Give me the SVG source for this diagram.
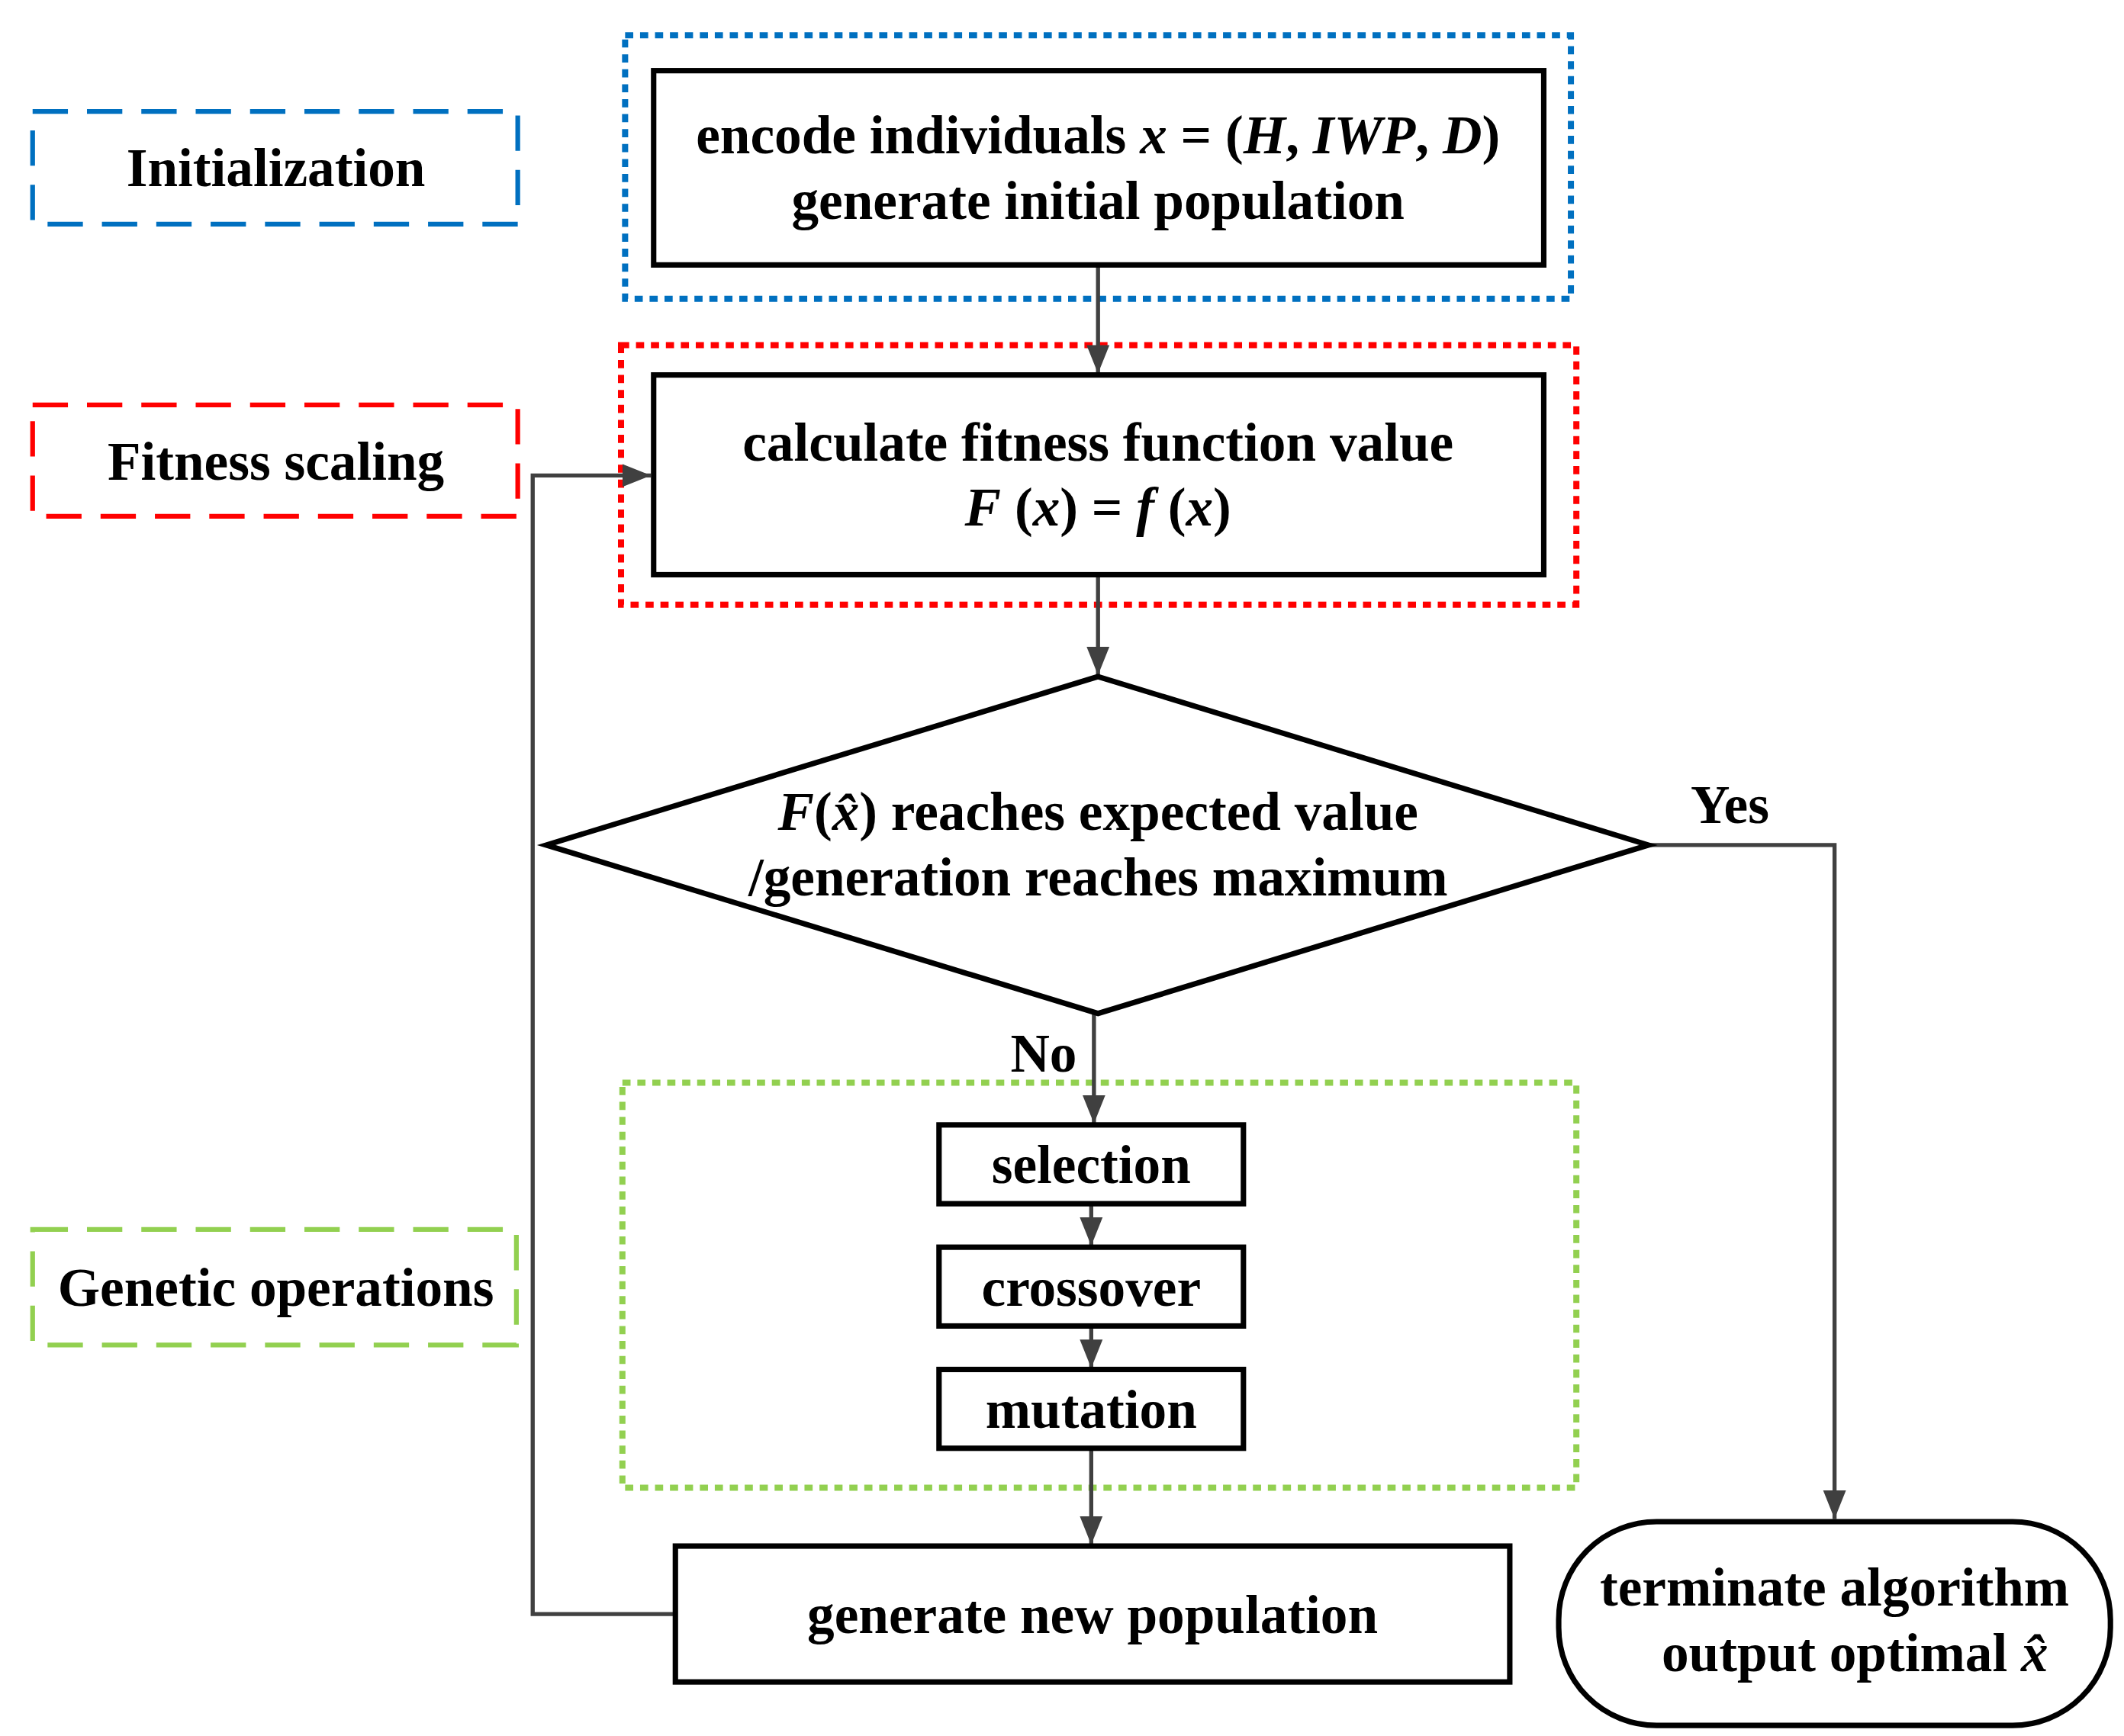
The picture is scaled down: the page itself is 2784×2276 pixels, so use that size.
<svg xmlns="http://www.w3.org/2000/svg" width="2784" height="2276" viewBox="0 0 2784 2276">
<style>
.t{font-family:"Liberation Serif","DejaVu Serif",serif;font-weight:bold;font-size:40px;fill:#000;text-anchor:middle}
.i{font-style:italic}
.box{fill:#fff;stroke:#000;stroke-width:4}
.c{fill:none;stroke:#404040;stroke-width:3}
.lab{fill:none;stroke-width:3.5;stroke-dasharray:26 14}
.dot{fill:none;stroke-width:4.5;stroke-dasharray:6 5}
</style>
<defs>
<marker id="a" viewBox="0 0 10 10" refX="10" refY="5" markerWidth="7" markerHeight="7" orient="auto" markerUnits="strokeWidth">
<path d="M0,1 L10,5 L0,9 z" fill="#404040"/>
</marker>
</defs>
<rect width="2784" height="2276" fill="#fff"/>
<g transform="scale(1.7812)">
<g id="groups">
<rect class="dot" x="460" y="26" width="696" height="194" stroke="#0070C0"/>
<rect class="dot" x="457" y="254" width="703" height="191" stroke="#FF0000"/>
<rect class="dot" x="458" y="797" width="702" height="298" stroke="#92D050"/>
</g>
<g id="label-init"><rect class="lab" x="24" y="82" width="357" height="83" stroke="#0070C0"/><text class="t" x="203" y="137">Initialization</text></g>
<g id="label-fitness"><rect class="lab" x="24" y="298" width="357" height="82" stroke="#FF0000"/><text class="t" x="203" y="353">Fitness scaling</text></g>
<g id="label-genetic"><rect class="lab" x="24" y="905" width="356" height="85" stroke="#92D050"/><text class="t" x="203" y="961">Genetic operations</text></g>
<g id="connectors">
<line class="c" x1="808" y1="195" x2="808" y2="275" marker-end="url(#a)"/>
<line class="c" x1="808" y1="423" x2="808" y2="497" marker-end="url(#a)"/>
<polyline class="c" points="1213,622 1350,622 1350,1118" marker-end="url(#a)"/>
<line class="c" x1="805" y1="746" x2="805" y2="827" marker-end="url(#a)"/>
<line class="c" x1="803" y1="886" x2="803" y2="917" marker-end="url(#a)"/>
<line class="c" x1="803" y1="976" x2="803" y2="1007" marker-end="url(#a)"/>
<line class="c" x1="803" y1="1066" x2="803" y2="1137" marker-end="url(#a)"/>
<polyline class="c" points="497,1188 392,1188 392,350 479,350" marker-end="url(#a)"/>
<text class="t" x="1273" y="606">Yes</text>
<text class="t" x="768" y="789">No</text>
</g>
<g id="n-encode"><rect class="box" x="481" y="52" width="655" height="143"/>
<text class="t" x="808" y="113">encode individuals  <tspan class="i">x</tspan> = (<tspan class="i">H</tspan>, <tspan class="i">IWP</tspan>, <tspan class="i">D</tspan>)</text>
<text class="t" x="808" y="161">generate  initial population</text></g>
<g id="n-fitness"><rect class="box" x="481" y="276" width="655" height="147"/>
<text class="t" x="808" y="339">calculate fitness function value</text>
<text class="t" x="808" y="387"><tspan class="i">F</tspan> (<tspan class="i">x</tspan>) = <tspan class="i">f</tspan> (<tspan class="i">x</tspan>)</text></g>
<g id="n-decision"><polygon points="808,498 1213,622 808,746 402,622" fill="#fff" stroke="#000" stroke-width="4"/>
<text class="t" x="808" y="611"><tspan class="i">F</tspan>(<tspan class="i">x̂</tspan>) reaches expected value</text>
<text class="t" x="808" y="659">/generation reaches maximum</text></g>
<g id="n-selection"><rect class="box" x="691" y="828" width="224" height="58"/><text class="t" x="803" y="871">selection</text></g>
<g id="n-crossover"><rect class="box" x="691" y="918" width="224" height="58"/><text class="t" x="803" y="961">crossover</text></g>
<g id="n-mutation"><rect class="box" x="691" y="1008" width="224" height="58"/><text class="t" x="803" y="1051">mutation</text></g>
<g id="n-newpop"><rect class="box" x="497" y="1138" width="614" height="100"/><text class="t" x="804" y="1202">generate new population</text></g>
<g id="n-terminate"><rect class="box" x="1147" y="1120" width="406" height="150" rx="72" ry="72"/>
<text class="t" x="1350" y="1182">terminate algorithm</text>
<text class="t" x="1365" y="1230">output optimal <tspan class="i">x̂</tspan></text></g>
</g>
</svg>
